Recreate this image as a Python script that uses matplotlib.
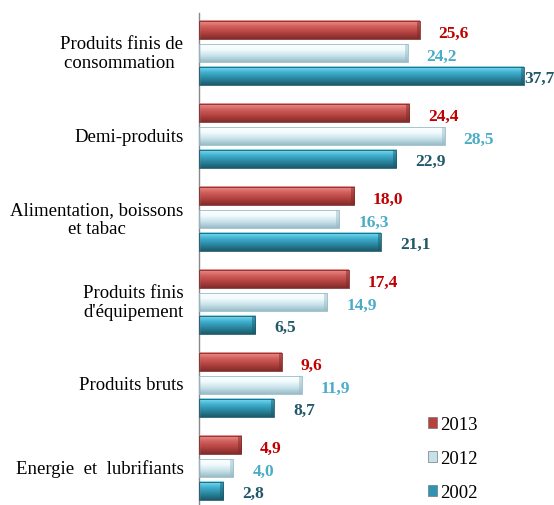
import numpy as np
import matplotlib
matplotlib.use("Agg")
import matplotlib.pyplot as plt
from matplotlib.colors import LinearSegmentedColormap
from matplotlib.patches import Rectangle

categories = ["Produits finis de\nconsommation ", "Demi-produits", "Alimentation, boissons\net tabac",
              "Produits finis\nd'équipement", "Produits bruts", "Energie  et  lubrifiants"]
years = ["2013", "2012", "2002"]
v2013 = [25.6, 24.4, 18.0, 17.4, 9.6, 4.9]
v2012 = [24.2, 28.5, 16.3, 14.9, 11.9, 4.0]
v2002 = [37.7, 22.9, 21.1, 6.5, 8.7, 2.8]

series = [v2013, v2012, v2002]
grads = [["#f29290", "#d0605d", "#b3423f", "#7f2c2a"],
         ["#ffffff", "#f2fbfd", "#c8e2ea", "#98bcc7"],
         ["#84e0f5", "#3fb0d0", "#2a869f", "#1c5a6b"]]
label_colors = ["#c00000", "#4bacc6", "#215968"]
legend_face = ["#b8403e", "#c5e1e9", "#2f94b3"]

plt.rcParams['font.family'] = ['Liberation Serif', 'DejaVu Serif']

fig = plt.figure(figsize=(5.54, 5.06), dpi=100)
ax = fig.add_axes([199 / 554, 0, 355 / 554, 492 / 506])
xmax = 41.2

step = 0.275
h = 0.22
grad = np.linspace(0, 1, 64).reshape(-1, 1)

for j, vals in enumerate(series):
    cmap = LinearSegmentedColormap.from_list("g%d" % j, grads[j])
    for i, v in enumerate(vals):
        y = i + (j - 1) * step
        ax.imshow(grad, cmap=cmap, aspect='auto', interpolation='bilinear',
                  extent=(0, v, y + h / 2, y - h / 2), zorder=2)
        ax.add_patch(Rectangle((0, y - h / 2), v, h, fill=False,
                               edgecolor=grads[j][-1], lw=0.6, zorder=3))
        # darker bevel at bar end
        ax.add_patch(Rectangle((v - 0.35, y - h / 2), 0.35, h, color=grads[j][-1],
                               alpha=0.5, lw=0, zorder=3))
        txt = ("%.1f" % v).replace(".", ",")
        # no room for the usual gap next to the longest bar
        tx = v + 0.05 if v + 2.2 + 3.6 > xmax else v + 2.2
        ax.text(tx, y + 0.03, txt, color=label_colors[j], fontsize=12.5,
                fontweight='bold', ha='left', va='center', zorder=4)

for i, c in enumerate(categories):
    ax.text(-1.8, i, c, ha='right', va='center', multialignment='center',
            fontsize=13.5, color='black', linespacing=1.15)

ax.set_xlim(0, xmax)
ax.set_ylim(5.446, -0.482)
ax.set_xticks([])
ax.set_yticks([])
for s in ['top', 'right', 'bottom']:
    ax.spines[s].set_visible(False)
ax.spines['left'].set_color('#888888')
ax.spines['left'].set_linewidth(1.0)

handles = [Rectangle((0, 0), 1, 1, facecolor=legend_face[k], edgecolor='#777777', lw=0.5)
           for k in range(3)]
ax.legend(handles, years, loc='upper left', bbox_to_anchor=(0.645, 0.18), frameon=False,
          fontsize=13.5, handlelength=0.5, handleheight=0.5, handletextpad=0.15,
          labelspacing=0.9, borderpad=0, borderaxespad=0)

fig.savefig("out.png", dpi=100)
